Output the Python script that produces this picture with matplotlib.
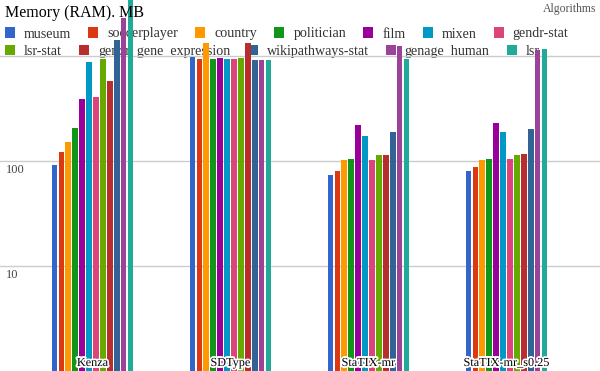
import numpy as np
import matplotlib
matplotlib.use('Agg')
import matplotlib.pyplot as plt
import matplotlib.patheffects as pe
from matplotlib.patches import Rectangle
from matplotlib import transforms

plt.rcParams['font.family'] = ['Liberation Serif', 'DejaVu Serif']

algorithms = ['Kenza', 'SDType', 'StaTIX-mr', 'StaTIX-mr_s0.25']
datasets = ['museum', 'soccerplayer', 'country', 'politician', 'film', 'mixen',
            'gendr-stat', 'lsr-stat', 'gendr_gene_expression', 'wikipathways-stat',
            'genage_human', 'lsr']

# memory in MB, one list per algorithm, in dataset order
kenza = [92, 122, 152, 208, 389, 877, 407, 930, 582, 1420, 2300, 3600]
sdtype = [972, 930, 1340, 930, 950, 930, 930, 950, 1320, 910, 910, 910]
statix = [73.6, 80.3, 102, 104.5, 220, 173, 102, 114, 114, 189, 1245, 930]
statix_s025 = [80, 87.7, 102, 104.5, 230, 189, 104.5, 114, 117, 202, 1140, 1166]

colors = ['#3366cc', '#dc3912', '#ff9900', '#109618', '#990099', '#0099c6',
          '#dd4477', '#66aa00', '#b82e2e', '#316395', '#994499', '#22aa99']

values = np.array([kenza, sdtype, statix, statix_s025])

W, H = 600, 371
fig = plt.figure(figsize=(W / 100, H / 100), dpi=100)
ax = fig.add_axes([0, 0, 1, 1])
ax.set_facecolor('none')

# group spacing is 138 px, first group centred at x=92.5 px
ax.set_xlim(-92.5 / 138, (W - 92.5) / 138)
ax.set_yscale('log')
ax.set_ylim(1, 10 ** (H / 105))

slot = 6.92 / 138
bw = 5.7 / 138
x = np.arange(len(algorithms))
n = len(datasets)
for i, name in enumerate(datasets):
    ax.bar(x + (i - (n - 1) / 2) * slot, values[:, i], width=bw,
           color=colors[i], zorder=2, linewidth=0)

ax.set_yticks([10, 100, 1000])
ax.minorticks_off()
ax.yaxis.grid(True, color='#cccccc', linewidth=1)
ax.set_axisbelow(True)
ax.tick_params(length=0, labelleft=False, labelbottom=False)
ax.set_xticks([])
for s in ax.spines.values():
    s.set_visible(False)

# y labels just under gridlines
trans_y = transforms.blended_transform_factory(ax.transAxes, ax.transData)
for v in [10, 100]:
    ax.text(6 / W, v, str(v), transform=transforms.offset_copy(trans_y, fig=fig, y=-3, units='dots'),
            ha='left', va='top', fontsize=9, color='#444444')

# group labels inside the plot with white halo
trans_x = transforms.blended_transform_factory(ax.transData, ax.transAxes)
for xi, name in zip(x, algorithms):
    ax.text(xi, 5 / H, name, transform=trans_x, ha='center', va='baseline',
            fontsize=8.8, color='black', zorder=5,
            path_effects=[pe.withStroke(linewidth=2.5, foreground='white')])

def px(xp, yp):
    return xp / W, 1 - yp / H

fig.text(*px(5, 17), 'Memory (RAM). MB', fontsize=11.5, color='black',
         ha='left', va='baseline', zorder=5)
fig.text(*px(596, 12), 'Algorithms', fontsize=8.5, color='#555555',
         ha='right', va='baseline', zorder=5)

# legend, flowing over two rows, drawn under the bars
renderer = fig.canvas.get_renderer()
rows = [datasets[:7], datasets[7:]]
baselines = [37.5, 55]
k = 0
for row, base in zip(rows, baselines):
    xp = 5
    for name in row:
        fig.patches.append(Rectangle(px(xp, base), 10 / W, 10 / H, transform=fig.transFigure,
                                     facecolor=colors[k], edgecolor='none', zorder=-1))
        t = fig.text(*px(xp + 19, base), name, fontsize=10.05, color='#333333',
                     ha='left', va='baseline', zorder=-1)
        wpx = t.get_window_extent(renderer).width
        xp = xp + 19 + wpx + 17.2
        k += 1

fig.savefig('out.png', dpi=100, facecolor='white')
